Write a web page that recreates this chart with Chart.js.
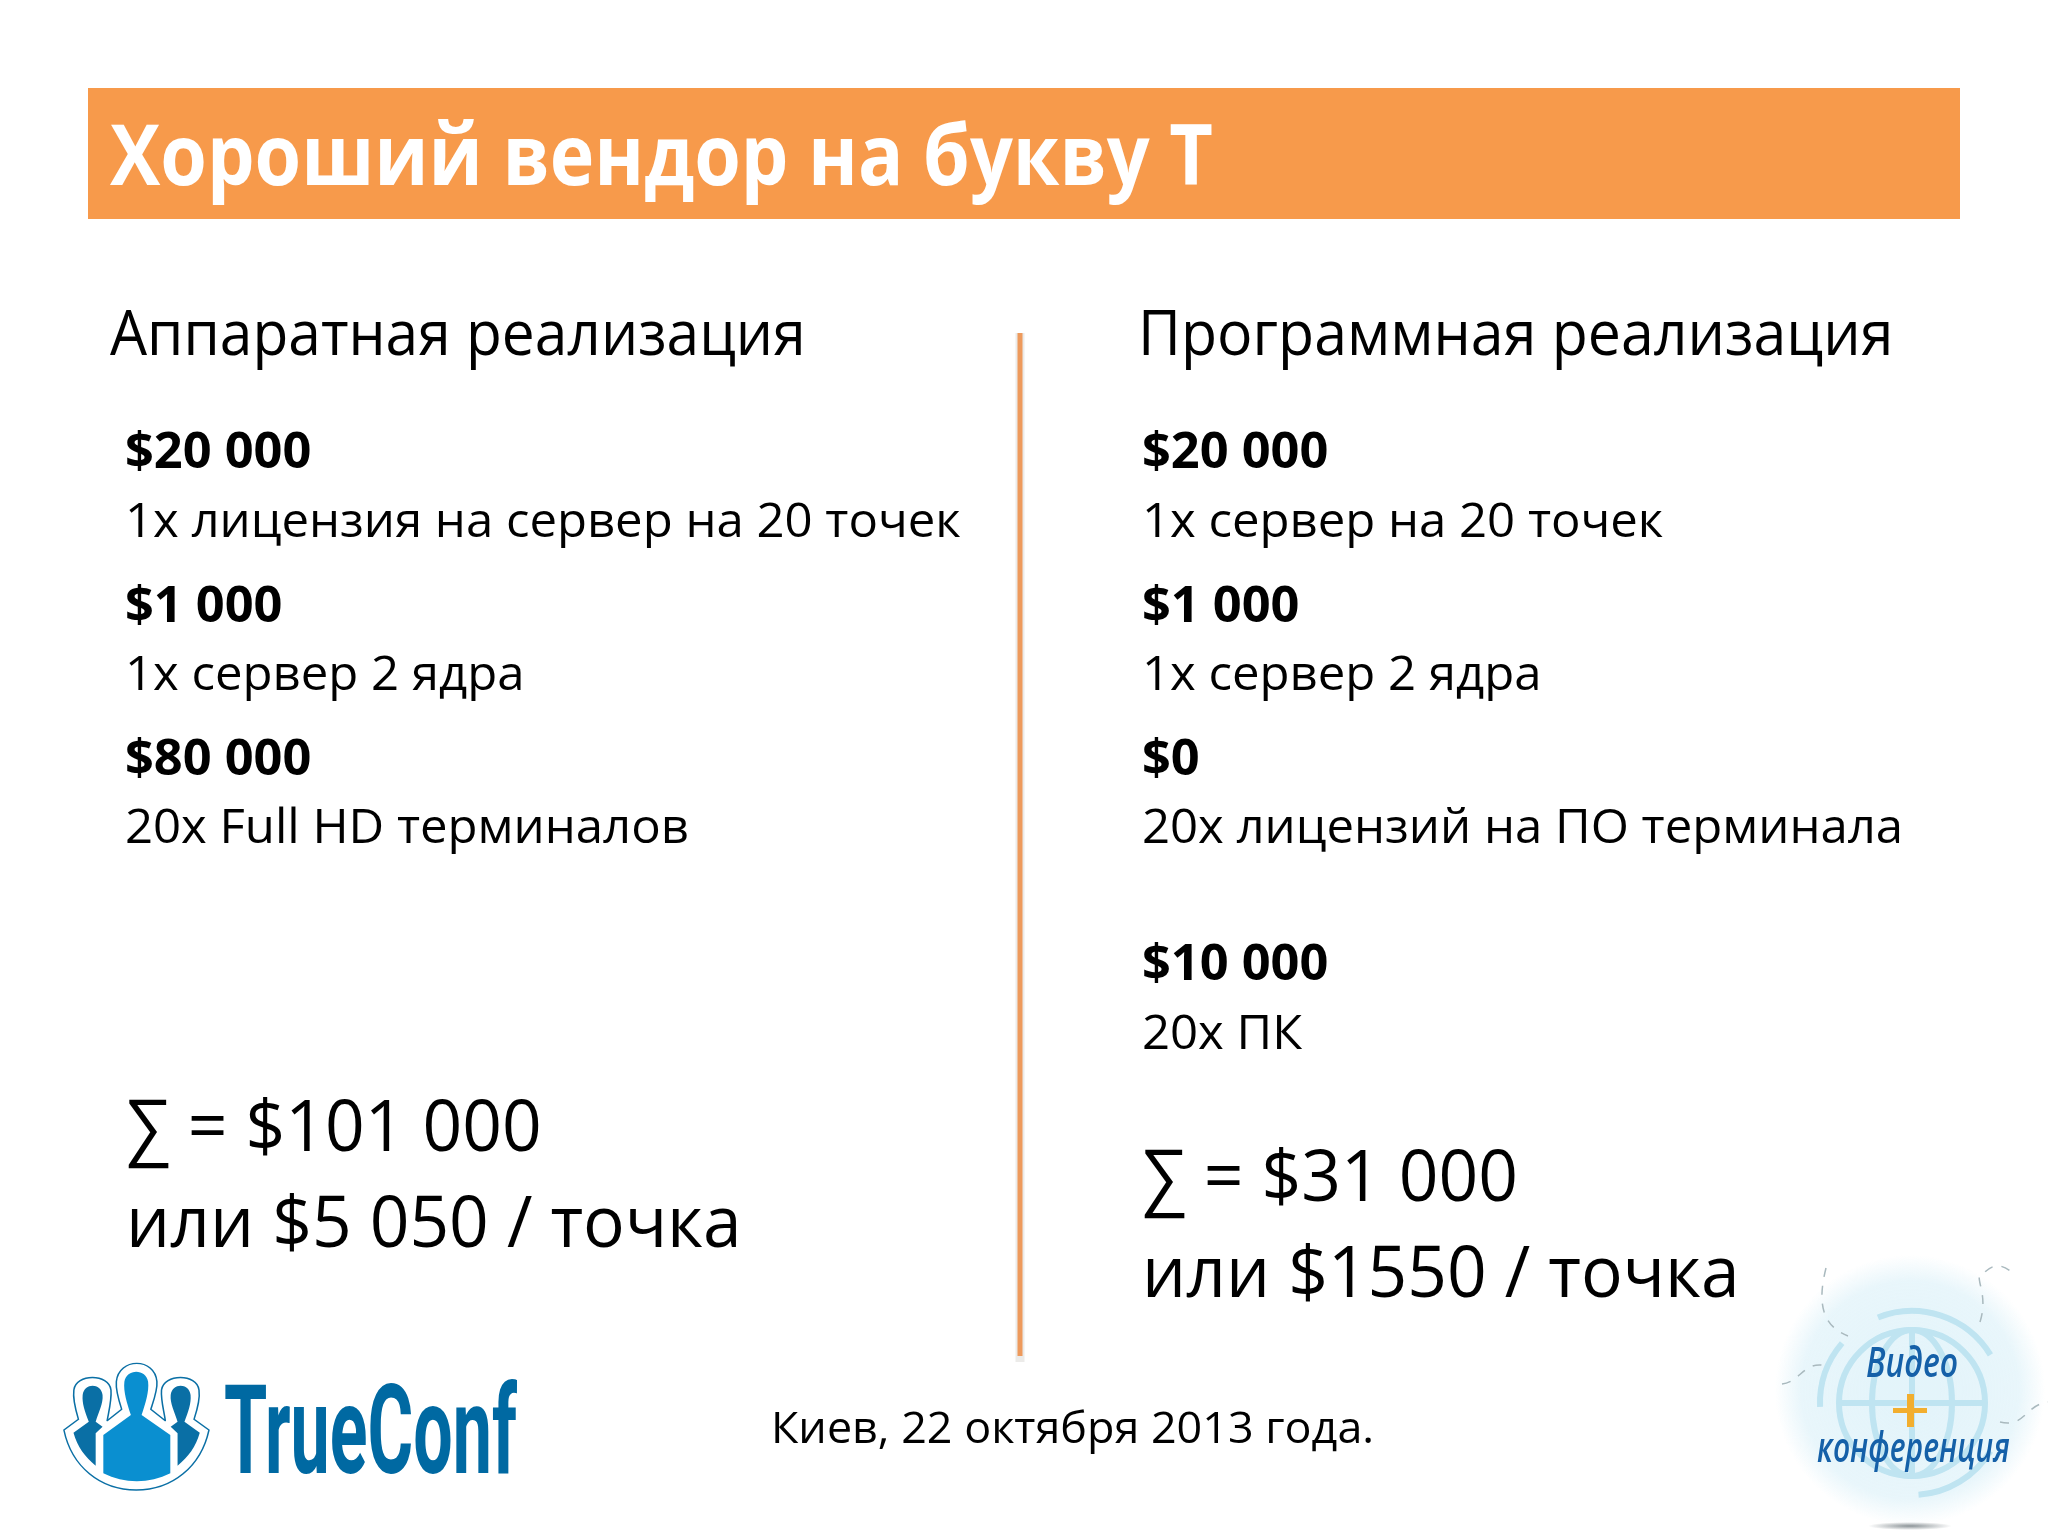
<!DOCTYPE html>
<html lang="ru">
<head>
<meta charset="utf-8">
<title>Хороший вендор на букву Т</title>
<script src="https://cdn.jsdelivr.net/npm/chart.js@4/dist/chart.umd.min.js"></script>
<style>
  html, body { margin: 0; padding: 0; background: #fff; }
  #wrap { width: 2048px; height: 1536px; }
</style>
</head>
<body>
<div id="wrap"><canvas id="slide" width="2048" height="1536"></canvas></div>
<script>
const slideTitle = "Хороший вендор на букву Т";
const columnTitles = ["Аппаратная реализация", "Программная реализация"];

const hardwareCosts = ["$20 000", "$1 000", "$80 000"];
const hardwareItems = ["1x лицензия на сервер на 20 точек", "1x сервер 2 ядра", "20x Full HD терминалов"];
const softwareCosts = ["$20 000", "$1 000", "$0", "$10 000"];
const softwareItems = ["1x сервер на 20 точек", "1x сервер 2 ядра", "20x лицензий на ПО терминала", "20x ПК"];

const hardwareTotal = ["∑ = $101 000", "или $5 050 / точка"];
const softwareTotal = ["∑ = $31 000", "или $1550 / точка"];
const footerText = "Киев, 22 октября 2013 года.";
const logoText = "TrueConf";
const badgeTexts = ["Видео", "конференция"];

const ORANGE = "#F79A4B";
const FONT = '"Open Sans", "Noto Sans", sans-serif';

// text with a horizontal squeeze, Calibri is narrower than anything installed
function putText(ctx, txt, x, y, font, color, sx) {
    ctx.save();
    ctx.font = font;
    ctx.fillStyle = color;
    ctx.textAlign = "left";
    ctx.textBaseline = "alphabetic";
    ctx.translate(x, y);
    ctx.scale(sx, 1);
    ctx.fillText(txt, 0, 0);
    ctx.restore();
}

function drawLogo(ctx, sx, sy) {
    // figures were traced in the zoomed crop units
    ctx.save();
    ctx.translate(sx(0), sy(1300));
    ctx.scale(1 / 2.613, 1 / 3);
    ctx.lineJoin = "round";

    ctx.beginPath();
    ctx.moveTo(167, 390);
    ctx.lineTo(205, 358);
    ctx.bezierCurveTo(195, 320, 190, 295, 193, 270);
    ctx.bezierCurveTo(198, 220, 285, 220, 290, 270);
    ctx.bezierCurveTo(292, 300, 285, 330, 280, 362);
    ctx.lineTo(318, 328);
    ctx.bezierCurveTo(310, 300, 302, 270, 304, 245);
    ctx.bezierCurveTo(310, 172, 405, 172, 410, 245);
    ctx.bezierCurveTo(412, 270, 402, 300, 394, 328);
    ctx.lineTo(432, 362);
    ctx.bezierCurveTo(428, 330, 420, 300, 422, 270);
    ctx.bezierCurveTo(428, 220, 515, 220, 520, 270);
    ctx.bezierCurveTo(523, 295, 518, 320, 507, 358);
    ctx.lineTo(546, 390);
    ctx.bezierCurveTo(525, 500, 450, 570, 356, 570);
    ctx.bezierCurveTo(262, 570, 187, 500, 167, 390);
    ctx.closePath();
    ctx.fillStyle = "#fff";
    ctx.fill();
    ctx.strokeStyle = "#0A6FA5";
    ctx.lineWidth = 4;
    ctx.stroke();

    ctx.fillStyle = "#0A6FA5";
    [0, 1].forEach(side => {
        ctx.save();
        if (side) { ctx.translate(714, 0); ctx.scale(-1, 1); }
        ctx.beginPath();
        ctx.moveTo(192, 398);
        ctx.lineTo(232, 365);
        ctx.bezierCurveTo(222, 335, 214, 310, 216, 285);
        ctx.bezierCurveTo(220, 248, 264, 248, 268, 285);
        ctx.bezierCurveTo(270, 310, 258, 335, 250, 365);
        ctx.lineTo(268, 380);
        ctx.lineTo(250, 400);
        ctx.lineTo(250, 497);
        ctx.bezierCurveTo(222, 470, 202, 440, 192, 398);
        ctx.closePath();
        ctx.fill();
        ctx.restore();
    });

    ctx.fillStyle = "#0A8FD0";
    ctx.beginPath();
    ctx.moveTo(270, 405);
    ctx.lineTo(342, 345);
    ctx.bezierCurveTo(332, 310, 322, 275, 325, 245);
    ctx.bezierCurveTo(330, 205, 382, 205, 387, 245);
    ctx.bezierCurveTo(390, 275, 380, 310, 370, 345);
    ctx.lineTo(445, 405);
    ctx.lineTo(445, 520);
    ctx.bezierCurveTo(390, 552, 325, 552, 270, 520);
    ctx.closePath();
    ctx.fill();
    ctx.restore();

    // wordmark
    ctx.save();
    ctx.font = 'bold 124px Roboto, sans-serif';
    ctx.translate(sx(224), sy(1473));
    const w = ctx.measureText(logoText).width;
    ctx.scale(293 / w, 1);
    ctx.fillStyle = "#0069A2";
    ctx.fillText(logoText, 0, 0);
    ctx.restore();
}

function drawBadge(ctx, sx, sy) {
    const cx = sx(1910), cy = sy(1400);
    const glow = ctx.createRadialGradient(cx, cy - 10, 30, cx, cy - 10, 135);
    glow.addColorStop(0, "rgba(205,235,246,0.55)");
    glow.addColorStop(0.75, "rgba(205,235,246,0.45)");
    glow.addColorStop(1, "rgba(205,235,246,0)");
    ctx.fillStyle = glow;
    ctx.beginPath();
    ctx.arc(cx, cy - 10, 135, 0, Math.PI * 2);
    ctx.fill();

    // globe
    ctx.strokeStyle = "#BFE4F1";
    ctx.lineWidth = 6;
    ctx.beginPath();
    ctx.arc(sx(1912), sy(1403), 73, 0, Math.PI * 2);
    ctx.stroke();
    ctx.beginPath();
    ctx.ellipse(sx(1912), sy(1403), 40, 73, 0, 0, Math.PI * 2);
    ctx.stroke();
    ctx.beginPath();
    ctx.moveTo(sx(1840), sy(1403));
    ctx.lineTo(sx(1984), sy(1403));
    ctx.moveTo(sx(1912), sy(1330));
    ctx.lineTo(sx(1912), sy(1476));
    ctx.stroke();
    ctx.beginPath();
    ctx.arc(sx(1912), sy(1403), 92, -1.95, -0.55);
    ctx.stroke();
    ctx.beginPath();
    ctx.arc(sx(1912), sy(1403), 92, 0.55, 1.5);
    ctx.stroke();
    ctx.beginPath();
    ctx.arc(sx(1912), sy(1403), 92, 3.1, 3.85);
    ctx.stroke();

    // thin dashed trails
    ctx.strokeStyle = "#A9B9BE";
    ctx.lineWidth = 1.5;
    ctx.setLineDash([9, 9]);
    ctx.beginPath();
    ctx.moveTo(1826, 1268);
    ctx.bezierCurveTo(1818, 1300, 1820, 1325, 1848, 1336);
    ctx.moveTo(1782, 1384);
    ctx.bezierCurveTo(1800, 1382, 1805, 1360, 1826, 1366);
    ctx.moveTo(1980, 1322);
    ctx.bezierCurveTo(1990, 1290, 1970, 1275, 1985, 1272);
    ctx.bezierCurveTo(1995, 1262, 2005, 1265, 2016, 1276);
    ctx.moveTo(2000, 1422);
    ctx.bezierCurveTo(2025, 1428, 2025, 1405, 2048, 1402);
    ctx.stroke();
    ctx.setLineDash([]);

    // plus
    ctx.fillStyle = "#F2AE2E";
    ctx.fillRect(sx(1893), sy(1408), 34, 5);
    ctx.fillRect(sx(1907), sy(1394), 7, 33);

    // floor shadow
    const sh = ctx.createRadialGradient(0, 0, 0, 0, 0, 1);
    sh.addColorStop(0, "rgba(110,120,125,0.8)");
    sh.addColorStop(1, "rgba(110,120,125,0)");
    ctx.save();
    ctx.translate(sx(1910), sy(1526));
    ctx.scale(42, 4);
    ctx.fillStyle = sh;
    ctx.beginPath();
    ctx.arc(0, 0, 1, 0, Math.PI * 2);
    ctx.fill();
    ctx.restore();

    putText(ctx, badgeTexts[0], sx(1866), sy(1377), 'italic 600 42px ' + FONT, "#1560A8", 0.76);
    putText(ctx, badgeTexts[1], sx(1817), sy(1462), 'italic 600 42px ' + FONT, "#1560A8", 0.715);
}

const slidePlugin = {
    id: "slide",
    beforeDatasetsDraw(chart) {
        const ctx = chart.ctx;
        const sx = v => chart.scales.x.getPixelForValue(v);
        const sy = v => chart.scales.y.getPixelForValue(v);

        ctx.fillStyle = ORANGE;
        ctx.fillRect(sx(88), sy(88), sx(1960) - sx(88), sy(219) - sy(88));
    },
    afterDatasetsDraw(chart) {
        const ctx = chart.ctx;
        const sx = v => chart.scales.x.getPixelForValue(v);
        const sy = v => chart.scales.y.getPixelForValue(v);

        putText(ctx, slideTitle, sx(110), sy(185), "bold 84px " + FONT, "#fff", 0.897);
        putText(ctx, columnTitles[0], sx(110), sy(355), "62px " + FONT, "#000", 0.946);
        putText(ctx, columnTitles[1], sx(1138), sy(355), "62px " + FONT, "#000", 0.952);

        const costRows = [468, 622, 775, 980];
        const itemRows = [537, 690, 843, 1049];
        const bold = "bold 50px " + FONT, body = "48px " + FONT;
        hardwareCosts.forEach((c, i) => {
            putText(ctx, c, sx(125), sy(costRows[i]), bold, "#000", 1.01);
            putText(ctx, hardwareItems[i], sx(125), sy(itemRows[i]), body, "#000", 1.022);
        });
        softwareCosts.forEach((c, i) => {
            putText(ctx, c, sx(1142), sy(costRows[i]), bold, "#000", 1.01);
            putText(ctx, softwareItems[i], sx(1142), sy(itemRows[i]), body, "#000", 1.022);
        });

        const big = "72px " + FONT;
        hardwareTotal.forEach((t, i) => putText(ctx, t, sx(126), sy(1151 + i * 96), big, "#000", 0.965));
        softwareTotal.forEach((t, i) => putText(ctx, t, sx(1142), sy(1201 + i * 96), big, "#000", 0.965));

        putText(ctx, footerText, sx(771), sy(1443), "44px " + FONT, "#000", 1.02);

        drawLogo(ctx, sx, sy);
        drawBadge(ctx, sx, sy);
    }
};

new Chart(document.getElementById("slide"), {
    type: "scatter",
    data: {
        datasets: [{
            // soft shadow behind the divider
            data: [{ x: 1020, y: 333 }, { x: 1020, y: 1362 }],
            showLine: true,
            borderColor: "rgba(120,110,100,0.14)",
            borderWidth: 9,
            pointRadius: 0,
            order: 2
        }, {
            // the vertical divider between the two columns
            data: [{ x: 1020, y: 333 }, { x: 1020, y: 1356 }],
            showLine: true,
            borderColor: "#EE9A5C",
            borderWidth: 5,
            pointRadius: 0,
            order: 1
        }]
    },
    options: {
        responsive: false,
        animation: false,
        devicePixelRatio: 1,
        layout: { padding: 0 },
        plugins: { legend: { display: false }, tooltip: { enabled: false } },
        scales: {
            x: { type: "linear", min: 0, max: 2048, display: false },
            y: { type: "linear", min: 0, max: 1536, reverse: true, display: false }
        }
    },
    plugins: [slidePlugin]
});
</script>
</body>
</html>
